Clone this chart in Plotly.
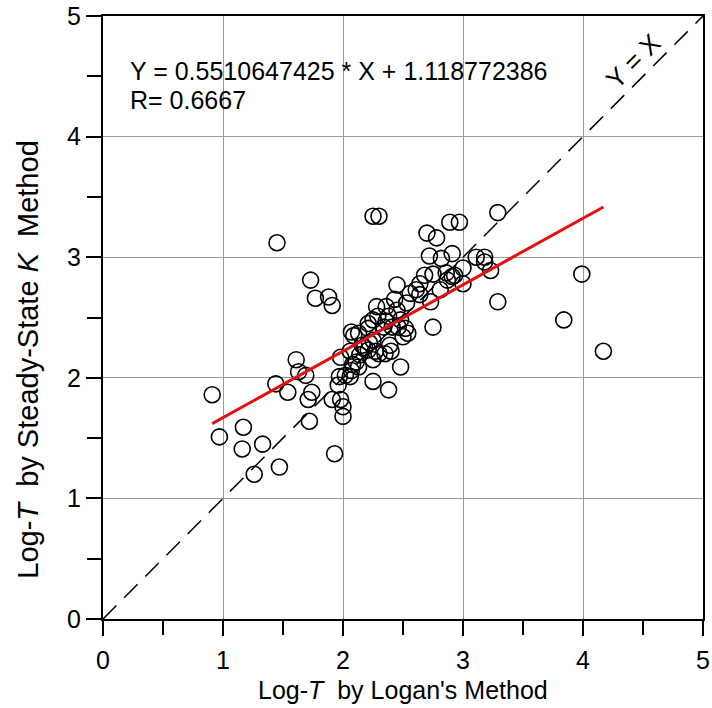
import plotly.graph_objects as go

# Data (Log-T by Logan's Method, Log-T by Steady-State K Method)
logan = [0.91, 0.97, 1.17, 1.16, 1.33, 1.26, 1.47, 1.44, 1.54, 1.61,
         1.63, 1.69, 1.74, 1.71, 1.72, 1.93, 1.91, 1.98, 2.00, 2.00,
         1.96, 1.97, 2.06, 1.98, 2.08, 2.13, 2.09, 2.18, 2.25, 2.16,
         1.45, 1.73, 1.77, 1.88, 1.91, 2.25, 2.30, 3.29, 2.89, 2.97,
         2.70, 2.78, 2.72, 2.82, 2.91, 3.11, 3.18, 3.18, 3.23, 3.00,
         3.00, 2.68, 2.75, 2.86, 2.91, 2.93, 2.87, 2.81, 2.64, 2.61,
         2.45, 3.29, 2.73, 2.56, 2.64, 2.53, 2.43, 2.45, 2.36, 2.28,
         2.29, 2.38, 2.48, 2.46, 2.52, 2.50, 2.54, 2.75, 2.34, 2.25,
         2.21, 2.07, 2.13, 2.22, 2.39, 3.99, 3.84, 4.17, 2.48, 2.40,
         2.35, 2.30, 2.38, 2.25, 2.21, 2.14, 2.06, 2.27, 2.02, 2.25,
         2.11, 2.07, 2.41, 2.36, 2.21]
steady = [1.86, 1.51, 1.59, 1.41, 1.45, 1.20, 1.26, 1.95, 1.88, 2.15,
          2.05, 2.02, 1.88, 1.82, 1.64, 1.37, 1.82, 1.82, 1.76, 1.68,
          1.94, 2.01, 2.01, 2.17, 2.11, 2.09, 2.35, 2.25, 1.97, 2.27,
          3.12, 2.81, 2.66, 2.67, 2.60, 3.34, 3.34, 3.37, 3.29, 3.29,
          3.20, 3.16, 3.01, 2.99, 3.03, 3.00, 3.00, 2.96, 2.89, 2.91,
          2.78, 2.85, 2.86, 2.87, 2.84, 2.85, 2.81, 2.73, 2.78, 2.73,
          2.77, 2.63, 2.63, 2.70, 2.69, 2.62, 2.65, 2.56, 2.59, 2.59,
          2.51, 2.51, 2.48, 2.42, 2.41, 2.34, 2.37, 2.42, 2.42, 2.48,
          2.41, 2.38, 2.37, 2.29, 2.27, 2.86, 2.48, 2.22, 2.09, 2.22,
          2.20, 2.20, 1.90, 2.15, 2.23, 2.19, 2.22, 2.22, 2.02, 2.31,
          2.13, 2.06, 2.42, 2.47, 2.45]

slope = 0.5510647425
intercept = 1.118772386
r_value = 0.6667
fit_x = [min(logan), max(logan)]
fit_y = [slope * v + intercept for v in fit_x]
diag = [0, 5]

FONT = "Arial, Liberation Sans, sans-serif"

fig = go.Figure()
fig.add_trace(go.Scatter(x=diag, y=diag, mode="lines",
                         line=dict(color="black", width=1.5, dash="19px,11px"),
                         showlegend=False, hoverinfo="skip"))
fig.add_trace(go.Scatter(x=logan, y=steady, mode="markers",
                         marker=dict(symbol="circle-open", size=16,
                                     color="black", line=dict(width=1.6, color="#222222")),
                         showlegend=False))
fig.add_trace(go.Scatter(x=fit_x, y=fit_y, mode="lines",
                         line=dict(color="#e41010", width=3),
                         showlegend=False))

axis_common = dict(
    range=[0, 5], dtick=1, tick0=0,
    showgrid=True, gridcolor="#9a9a9a", gridwidth=1,
    showline=True, linecolor="black", linewidth=2, mirror=True,
    ticks="outside", ticklen=15, tickwidth=2, tickcolor="black",
    minor=dict(dtick=0.5, ticks="outside", ticklen=14, tickwidth=2,
               tickcolor="black", showgrid=False),
    zeroline=False, automargin=False,
    tickfont=dict(family=FONT, size=25, color="black"),
    fixedrange=True,
)

fig.update_xaxes(**axis_common, ticklabelstandoff=3)
fig.update_yaxes(**axis_common)

fig.update_layout(
    width=712, height=708,
    margin=dict(l=103, r=9, t=16, b=89),
    paper_bgcolor="white", plot_bgcolor="white",
    font=dict(family=FONT, color="black"),
    annotations=[
        dict(text=f"Y = {slope} * X + {intercept}", xref="paper", yref="paper",
             x=0.041, y=0.909, xanchor="left", yanchor="middle", showarrow=False,
             font=dict(family=FONT, size=25, color="black")),
        dict(text=f"R= {r_value}", xref="paper", yref="paper",
             x=0.041, y=0.861, xanchor="left", yanchor="middle", showarrow=False,
             font=dict(family=FONT, size=25, color="black")),
        dict(text="Y = X", xref="x", yref="y", x=4.42, y=4.63,
             textangle=-45, showarrow=False,
             font=dict(family=FONT, size=26, color="black")),
        dict(text="Log-<i>T</i>&nbsp; by Logan's Method", xref="paper", yref="paper",
             x=0.5, y=-0.118, xanchor="center", yanchor="middle", showarrow=False,
             font=dict(family=FONT, size=25, color="black")),
        dict(text="Log-<i>T</i>&nbsp; by Steady-State <i>K</i>&nbsp; Method", xref="paper", yref="paper",
             x=-0.125, y=0.43, xanchor="center", yanchor="middle", textangle=-90,
             showarrow=False, font=dict(family=FONT, size=29, color="black")),
    ],
)

fig.write_html("out.html")
